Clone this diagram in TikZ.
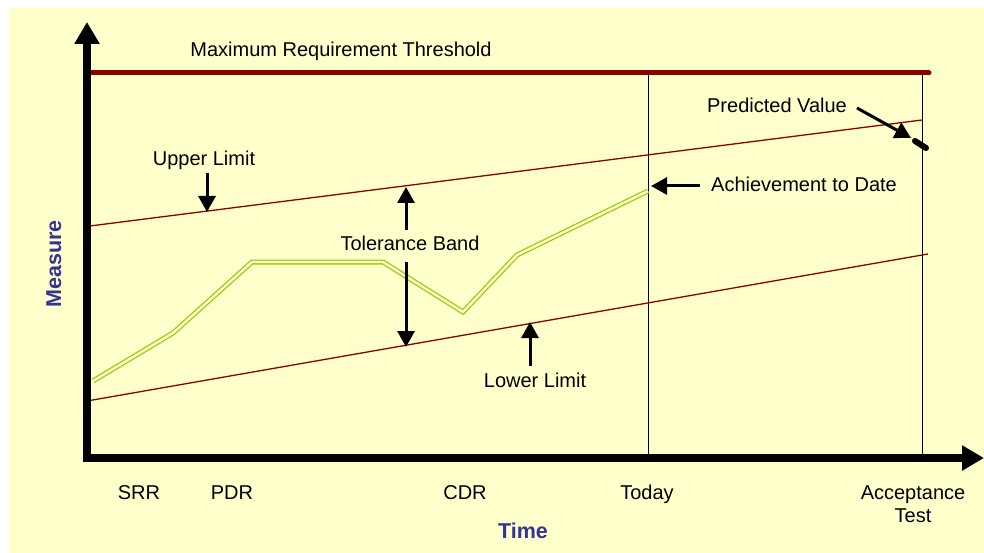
\documentclass[tikz,border=0pt]{standalone}
\usepackage{fontspec}
\setmainfont{Liberation Sans}
\usetikzlibrary{arrows.meta}
\definecolor{bg}{HTML}{FFFFCC}
\definecolor{limred}{HTML}{8B0000}
\definecolor{achgreen}{HTML}{99CC11}
\definecolor{axblue}{HTML}{333399}

\begin{document}
\begin{tikzpicture}[x=1pt,y=-1pt,>={Triangle[length=16pt,width=17pt]}]
\tikzstyle{lbl}=[font=\fontsize{20}{23}\selectfont, inner sep=0pt, anchor=base]
\tikzstyle{axlbl}=[font=\fontsize{21.5}{24}\selectfont\bfseries, text=axblue, inner sep=0pt, anchor=base]
\tikzstyle{axis}=[line width=8pt, line cap=rect, -{Triangle[length=22pt,width=24pt]}]
\tikzstyle{limit}=[limred, line width=1.3pt]
\tikzstyle{pointer}=[line width=3pt, ->]
\tikzstyle{milestone}=[line width=1pt]
\tikzstyle{achieved}=[achgreen, line width=1.3pt, double=bg, double distance=2.4pt]

\useasboundingbox (0,0) rectangle (984,553);
\fill[bg] (9,8) rectangle (984,553);

% points
\coordinate (O)      at (87,458);
\coordinate (ytip)   at (87,22);
\coordinate (xtip)   at (984,458);
\coordinate (thL)    at (89,73);
\coordinate (thR)    at (929,73);
\coordinate (ulL)    at (90,226);
\coordinate (ulR)    at (922,120);
\coordinate (llL)    at (87,401);
\coordinate (llR)    at (928,254);
\coordinate (todayT) at (648,73);
\coordinate (todayB) at (648,458);
\coordinate (accT)   at (922,73);
\coordinate (accB)   at (922,458);

% limits and milestones
\draw[limred, line width=5pt, line cap=round] (thL) -- (thR);
\draw[milestone] (todayT) -- (todayB);
\draw[milestone] (accT) -- (accB);
\draw[limit] (ulL) -- (ulR);
\draw[limit] (llL) -- (llR);
\draw[achieved] (93,381) -- (173,333) -- (252,262) -- (383,262)
                -- (463,312) -- (517,255) -- (648,191);
\draw[axis] (O) -- (ytip);
\draw[axis] (O) -- (xtip);

% labels
\node[lbl]   (thr)   at (341,57)  {Maximum Requirement Threshold};
\node[lbl]   (upper) at (204,166) {Upper Limit};
\node[lbl]   (pred)  at (777,113) {Predicted Value};
\node[lbl]   (ach)   at (804,192) {Achievement to Date};
\node[lbl]   (tol)   at (410,251) {Tolerance Band};
\node[lbl]   (lower) at (535,387) {Lower Limit};
\node[lbl]   (srr)   at (139,499) {SRR};
\node[lbl]   (pdr)   at (232,499) {PDR};
\node[lbl]   (cdr)   at (465,499) {CDR};
\node[lbl]   (today) at (647,499) {Today};
\node[lbl]   (acc)   at (913,499) {Acceptance};
\node[lbl]   (test)  at (913,522) {Test};
\node[axlbl] (time)  at (523,538) {Time};
\node[axlbl, rotate=90] (meas) at (61,264) {Measure};

% pointers
\coordinate (ulTail)  at (207,173);
\coordinate (ulHit)   at (207,212);
\coordinate (tolUp)   at (406,230);
\coordinate (tolUpH)  at (406,187);
\coordinate (tolDn)   at (406,262);
\coordinate (tolDnH)  at (406,347);
\coordinate (llTail)  at (530,366);
\coordinate (llHit)   at (530,322);
\coordinate (achTail) at (700,186);
\coordinate (achHit)  at (651,186);
\coordinate (prTail)  at (857,108);
\coordinate (prHit)   at (911,138);
\coordinate (pvA)     at (915,141);
\coordinate (pvB)     at (926,148);

\path[pointer] (ulTail)  edge (ulHit)
               (tolUp)   edge (tolUpH)
               (tolDn)   edge (tolDnH)
               (llTail)  edge (llHit)
               (achTail) edge (achHit)
               (prTail)  edge (prHit);
\draw[line width=6pt, line cap=round] (pvA) -- (pvB);
\end{tikzpicture}
\end{document}
